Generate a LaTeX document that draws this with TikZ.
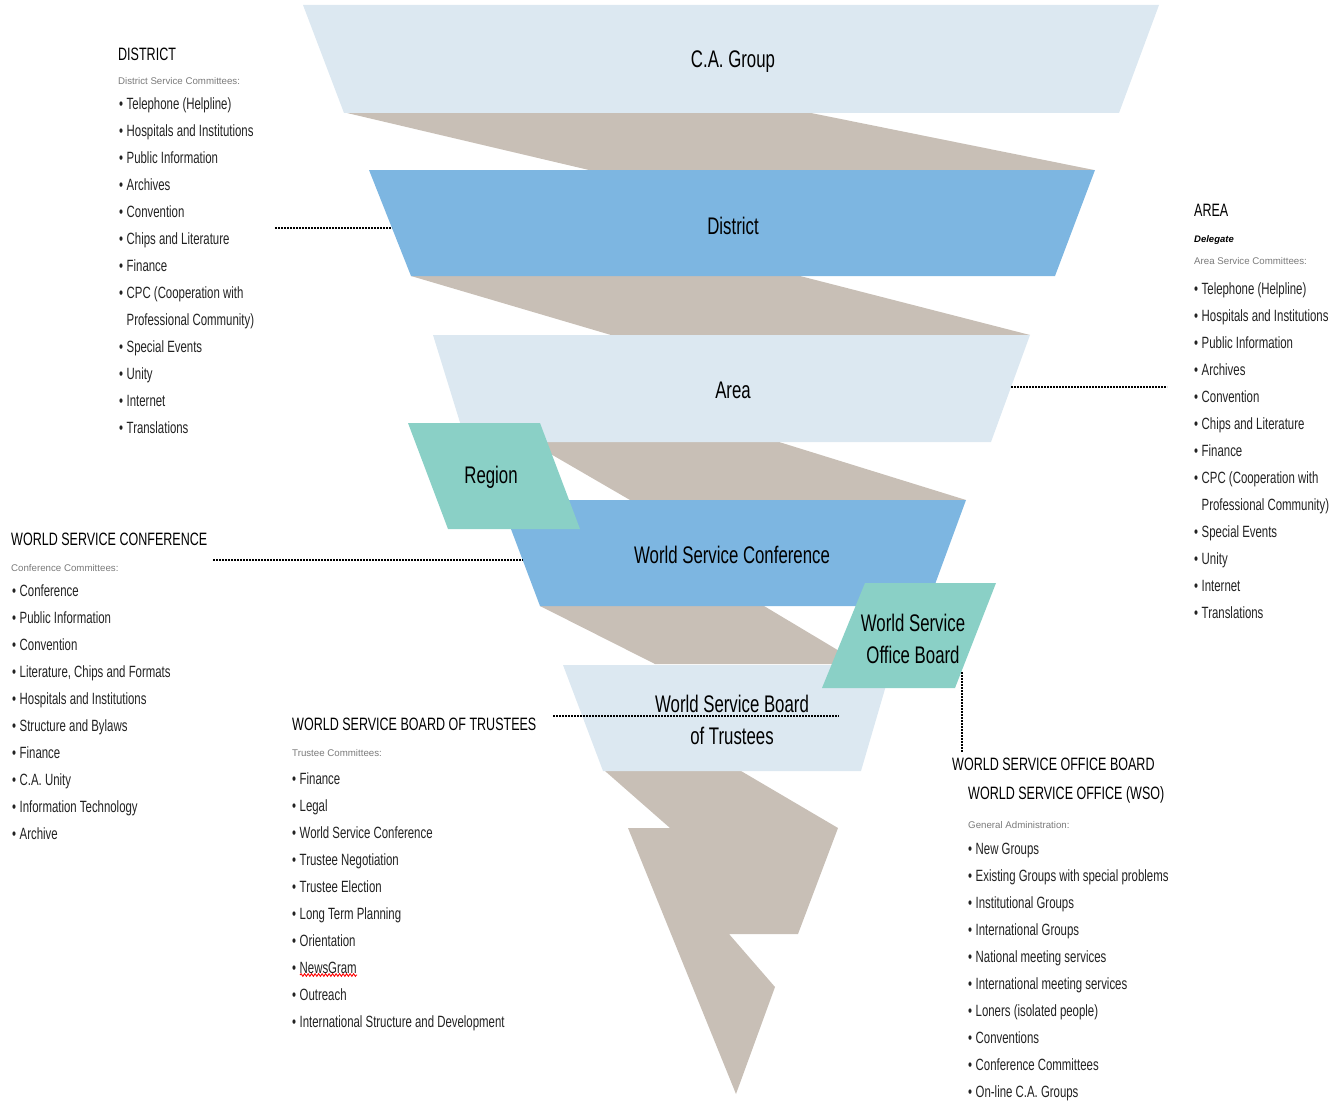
\documentclass[tikz,border=0pt]{standalone}
\usepackage{fontspec}
\setmainfont{Liberation Sans}[FakeStretch=0.7]
\newfontfamily\widesans{Liberation Sans}
\usetikzlibrary{decorations.pathmorphing}

\definecolor{paleblue}{HTML}{DCE8F1}
\definecolor{midblue}{HTML}{7DB6E1}
\definecolor{taupe}{HTML}{C8BFB6}
\definecolor{mint}{HTML}{8AD0C6}
\definecolor{itemgray}{HTML}{222222}
\definecolor{subgray}{HTML}{7A7A7A}

\newcommand{\lstitem}{\makebox[7.5pt][l]{\textbullet}}
\newcommand{\lstskip}{\hspace*{7.5pt}}

\begin{document}
\begin{tikzpicture}[x=1pt, y={(0pt,-1pt)},
  level/.style={font=\fontsize{24}{32}\selectfont, align=center, inner sep=0},
  head/.style={anchor=west, inner sep=0, font=\fontsize{17.9}{22}\selectfont},
  sub/.style={anchor=west, inner sep=0, text=subgray, font=\widesans\fontsize{9.7}{11}\selectfont},
  items/.style={anchor=north west, inner sep=0, align=left, text=itemgray, font=\fontsize{16.3}{27}\selectfont},
  link/.style={line width=1.6pt, dash pattern=on 1.6pt off 1.4pt}]
  \useasboundingbox (0,0) rectangle (1343,1105);

  % Bands
  \fill[taupe] (347,113) -- (811,113) -- (1094,170) -- (589,170) -- cycle;
  \fill[taupe] (411,276) -- (800,276) -- (1030,335) -- (611,335) -- cycle;
  \fill[taupe] (530,442) -- (779,442) -- (966,500) -- (630,500) -- cycle;
  \fill[taupe] (540,606) -- (764,606) -- (861,664) -- (655,664) -- cycle;
  \fill[taupe] (605,771) -- (741,771) -- (838,828) -- (798,934) -- (729,934) -- (775,987) -- (736,1094) -- (628,828) -- (670,828) -- cycle;

  % Levels
  \fill[paleblue] (303,5) -- (1159,5) -- (1119,113) -- (344,113) -- cycle;
  \fill[midblue] (369,170) -- (1095,170) -- (1055,276) -- (411,276) -- cycle;
  \fill[paleblue] (433,335) -- (1030,335) -- (991,442) -- (466,442) -- cycle;
  \fill[midblue] (500,500) -- (966,500) -- (927,606) -- (540,606) -- cycle;
  \fill[paleblue] (563,665) -- (892,665) -- (861,771) -- (603,771) -- cycle;
  \fill[mint] (408,423) -- (540,423) -- (580,529) -- (448,529) -- cycle;
  \fill[mint] (865,583) -- (996,583) -- (955,688) -- (822,688) -- cycle;

  % Links
  \coordinate (distEnd) at (275,228);
  \coordinate (distEdge) at (392,228);
  \coordinate (areaEdge) at (1011,387);
  \coordinate (areaEnd) at (1167,387);
  \coordinate (wscEnd) at (213,560);
  \coordinate (wscEdge) at (523,560);
  \coordinate (trustEnd) at (553,716);
  \coordinate (trustMid) at (839,716);
  \coordinate (officeIn) at (962,672);
  \coordinate (officeEnd) at (962,752);
  \draw[link] (distEnd) -- (distEdge);
  \draw[link] (areaEdge) -- (areaEnd);
  \draw[link] (wscEnd) -- (wscEdge);
  \draw[link] (trustEnd) -- (trustMid);
  \draw[link] (officeIn) -- (officeEnd);

  % Level labels
  \node[level] (cagroup) at (733,62) {C.A. Group};
  \node[level] (district) at (733,226) {District};
  \node[level] (area) at (733,390) {Area};
  \node[level] (region) at (491,477) {Region};
  \node[level] (wsc) at (732,555) {World Service Conference};
  \node[level] (wsob) at (913,639) {World Service\\Office Board};
  \node[level] (wsbt) at (732,720) {World Service Board\\of Trustees};

  % District
  \node[head] (distHead) at (118,54) {DISTRICT};
  \node[sub] (distSub) at (118,81) {District Service Committees:};
  \node[items] (distList) at (119,97) {\lstitem Telephone (Helpline)\\
    \lstitem Hospitals and Institutions\\
    \lstitem Public Information\\
    \lstitem Archives\\
    \lstitem Convention\\
    \lstitem Chips and Literature\\
    \lstitem Finance\\
    \lstitem CPC (Cooperation with\\
    \lstskip Professional Community)\\
    \lstitem Special Events\\
    \lstitem Unity\\
    \lstitem Internet\\
    \lstitem Translations};

  % Area
  \node[head] (areaHead) at (1194,210) {AREA};
  \node[sub, text=black, font=\widesans\bfseries\itshape\fontsize{9.5}{11}\selectfont] (areaDel) at (1194,240) {Delegate};
  \node[sub] (areaSub) at (1194,261) {Area Service Committees:};
  \node[items] (areaList) at (1194,282) {\lstitem Telephone (Helpline)\\
    \lstitem Hospitals and Institutions\\
    \lstitem Public Information\\
    \lstitem Archives\\
    \lstitem Convention\\
    \lstitem Chips and Literature\\
    \lstitem Finance\\
    \lstitem CPC (Cooperation with\\
    \lstskip Professional Community)\\
    \lstitem Special Events\\
    \lstitem Unity\\
    \lstitem Internet\\
    \lstitem Translations};

  % World Service Conference
  \node[head] (wscHead) at (11,539) {WORLD SERVICE CONFERENCE};
  \node[sub] (wscSub) at (11,568) {Conference Committees:};
  \node[items] (wscList) at (12,584) {\lstitem Conference\\
    \lstitem Public Information\\
    \lstitem Convention\\
    \lstitem Literature, Chips and Formats\\
    \lstitem Hospitals and Institutions\\
    \lstitem Structure and Bylaws\\
    \lstitem Finance\\
    \lstitem C.A. Unity\\
    \lstitem Information Technology\\
    \lstitem Archive};

  % World Service Board of Trustees
  \node[head] (wsbtHead) at (292,724) {WORLD SERVICE BOARD OF TRUSTEES};
  \node[sub] (wsbtSub) at (292,753) {Trustee Committees:};
  \node[items] (wsbtList) at (292,772) {\lstitem Finance\\
    \lstitem Legal\\
    \lstitem World Service Conference\\
    \lstitem Trustee Negotiation\\
    \lstitem Trustee Election\\
    \lstitem Long Term Planning\\
    \lstitem Orientation\\
    \lstitem NewsGram\\
    \lstitem Outreach\\
    \lstitem International Structure and Development};
  \draw[red, line width=0.9pt, decorate, decoration={snake, amplitude=1.3pt, segment length=3.5pt}] (300,975) -- (357,975);

  % World Service Office
  \node[head] (wsobHead) at (952,764) {WORLD SERVICE OFFICE BOARD};
  \node[head] (wsoHead) at (968,795) {WORLD SERVICE OFFICE (WSO)};
  \node[sub] (wsoSub) at (968,825) {General Administration:};
  \node[items] (wsoList) at (968,843) {\lstitem New Groups\\
    \lstitem Existing Groups with special problems\\
    \lstitem Institutional Groups\\
    \lstitem International Groups\\
    \lstitem National meeting services\\
    \lstitem International meeting services\\
    \lstitem Loners (isolated people)\\
    \lstitem Conventions\\
    \lstitem Conference Committees\\
    \lstitem On-line C.A. Groups};
\end{tikzpicture}
\end{document}
